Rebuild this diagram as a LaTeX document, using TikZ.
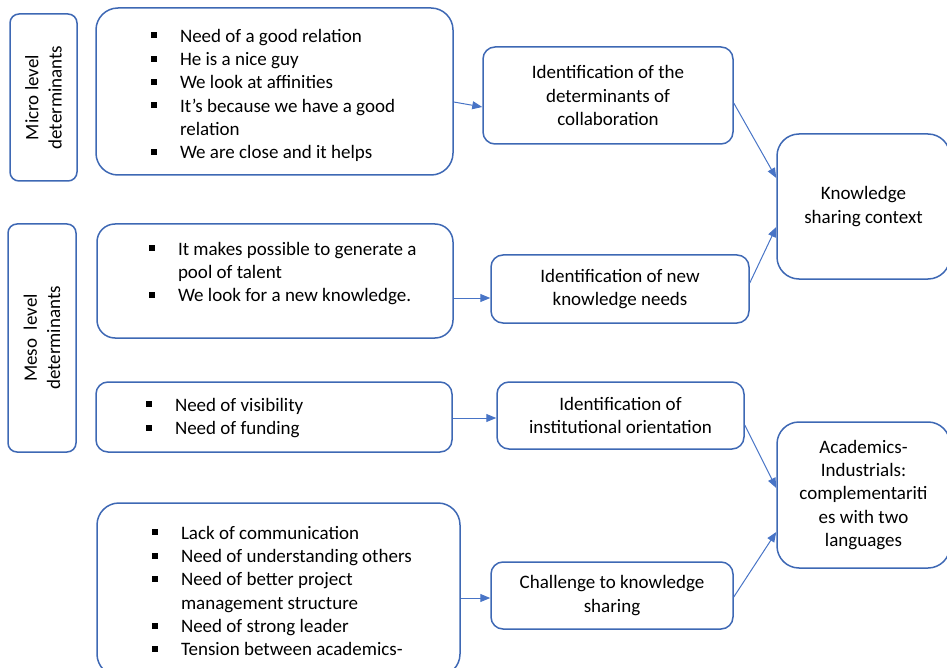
\documentclass[tikz,border=0pt]{standalone}
\usepackage{fontspec}
\setmainfont{Carlito}
\usetikzlibrary{arrows.meta}
\definecolor{boxblue}{RGB}{62,104,180}
\definecolor{linkblue}{RGB}{72,116,198}
% bullet item: small black square followed by the text column
\newcommand\bl{\makebox[29pt][l]{\rule[4pt]{6pt}{6pt}}}
\newcommand\hang{\hspace*{29pt}}
% a left-aligned list set in a fixed-width slot, lines never wrapped;
% the list is centred on the node centre, then moved up by the given amount
\newcommand\quotelist[3]{\raisebox{\dimexpr#2-4.75pt\relax}[0pt][0pt]{\makebox[#1][l]{\begin{tabular}{@{}l@{}}#3\end{tabular}}}}
\begin{document}
\begin{tikzpicture}[x=1pt,y=-1pt,
  every node/.style={font=\fontsize{19}{23.3}\selectfont, text=black},
  box/.style={draw=boxblue, line width=1.5pt, inner sep=0pt},
  biground/.style={box, rounded corners=22pt},
  midround/.style={box, rounded corners=12pt},
  tagbox/.style={box, rounded corners=9pt},
  link/.style={draw=linkblue, line width=1pt, -{Triangle[length=10pt,width=8pt]}}]
\useasboundingbox (0,0) rectangle (947,668);
\renewcommand\arraystretch{1}

% level labels
\node[tagbox, minimum width=67pt, minimum height=167pt] (micro) at (43.5,97.5) {};
\node[rotate=90, align=center] at (micro.center) {Micro level\\determinants};
\node[tagbox, minimum width=68pt, minimum height=228pt] (meso) at (42,338) {};
\node[rotate=90, align=center] at (meso.center) {Meso\ \ level\\determinants};

% quotation boxes
\node[biground, minimum width=357pt, minimum height=167pt] (b1) at (274.5,91.5)
  {\quotelist{247pt}{-4pt}{\bl Need of a good relation\\
   \bl He is a nice guy\\
   \bl We look at affinities\\
   \bl It’s because we have a good\\
   \hang relation\\
   \bl We are close and it helps}};
\node[biground, rounded corners=18pt, minimum width=356pt, minimum height=114pt] (b2) at (275,281)
  {\quotelist{252pt}{7.5pt}{\bl It makes possible to generate a\\
   \hang pool of talent\\
   \bl We look for a new knowledge.}};
\node[midround, minimum width=356pt, minimum height=70pt] (b3) at (274,417)
  {\quotelist{256pt}{-1pt}{\bl Need of visibility\\
   \bl Need of funding}};
\node[biground, minimum width=363pt, minimum height=173pt] (b4) at (278.5,589.5)
  {\quotelist{253pt}{-3pt}{\bl Lack of communication\\
   \bl Need of understanding others\\
   \bl Need of better project\\
   \hang management structure\\
   \bl Need of strong leader\\
   \bl Tension between academics-}};

% identification boxes
\node[midround, minimum width=250pt, minimum height=97pt, align=center] (id1) at (608,95.5)
  {Identification of the\\determinants of\\collaboration};
\node[midround, minimum width=258pt, minimum height=68pt, align=center] (id2) at (620,289)
  {Identification of new\\knowledge needs};
\node[midround, minimum width=247pt, minimum height=67pt, align=center] (id3) at (620.5,415.5)
  {Identification of\\institutional orientation};
\node[midround, minimum width=242pt, minimum height=67pt, align=center] (ch) at (612,595.5)
  {Challenge to knowledge\\sharing};

% outcome boxes
\node[biground, minimum width=173pt, minimum height=145pt, align=center] (ksc) at (863.5,206.5)
  {Knowledge\\sharing context};
\node[biground, minimum width=173pt, minimum height=146pt, align=center] (acad) at (863.5,495)
  {Academics-\\Industrials:\\complementariti\\es with two\\languages};

% connectors
\draw[link] ([yshift=-10.5pt]b1.east) -- ([yshift=-11.5pt]id1.west);
\draw[link] ([yshift=-17pt]b2.east) -- ([yshift=-9pt]id2.west);
\draw[link] ([yshift=-1pt]b3.east) -- ([yshift=-2.5pt]id3.west);
\draw[link] ([yshift=-8.5pt]b4.east) -- ([yshift=-2.5pt]ch.west);
\draw[link] ([yshift=-7.5pt]id1.east) -- ([yshift=28.5pt]ksc.west);
\draw[link] ([yshift=6pt]id2.east) -- ([yshift=-20.5pt]ksc.west);
\draw[link] ([yshift=-9.5pt]id3.east) -- ([yshift=7pt]acad.west);
\draw[link] ([yshift=-1.5pt]ch.east) -- ([yshift=-37pt]acad.west);
\end{tikzpicture}
\end{document}
